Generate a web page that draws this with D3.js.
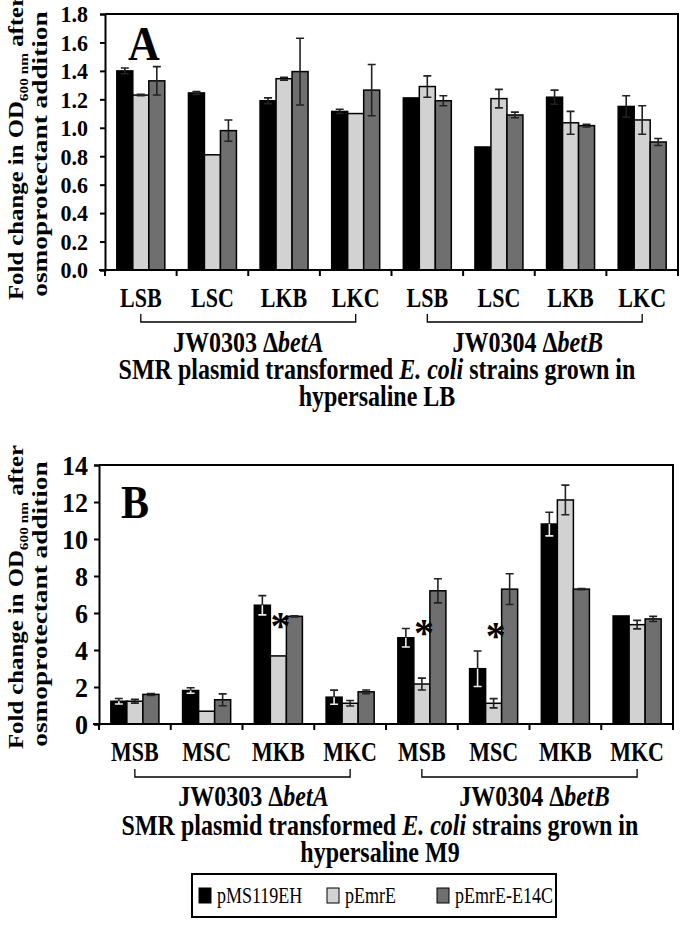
<!DOCTYPE html>
<html><head><meta charset="utf-8">
<script src="https://cdn.jsdelivr.net/npm/d3@7"></script>
<style>body{margin:0;background:#fff}svg{display:block}text{font-family:"Liberation Serif","Times New Roman",serif;fill:#000}</style>
</head><body><svg id="c" width="680" height="927"></svg>
<script>
const series = ["pMS119EH","pEmrE","pEmrE-E14C"];
const colors = ["#000000","#d2d2d2","#6f6f6f"];
const catsA = ["LSB","LSC","LKB","LKC","LSB","LSC","LKB","LKC"];
const catsB = ["MSB","MSC","MKB","MKC","MSB","MSC","MKB","MKC"];
const strainIds = ["JW0303","JW0304"];
const strainGenes = ["betA","betB"];
const ticksA = [0,0.2,0.4,0.6,0.8,1.0,1.2,1.4,1.6,1.8];
const ticksB = [0,2,4,6,8,10,12,14];

// Panel A values (fold change) and errors per series
const aMS = [1.40,1.245,1.19,1.115,1.21,0.865,1.215,1.15];
const aEmrE = [1.23,0.81,1.345,1.10,1.29,1.205,1.035,1.055];
const aE14C = [1.33,0.98,1.395,1.265,1.19,1.09,1.015,0.90];
const aMSerr = [0.02,0.01,0.02,0.015,0,0,0.05,0.075];
const aEmrEerr = [0.005,0,0.01,0,0.075,0.065,0.08,0.1];
const aE14Cerr = [0.10,0.075,0.235,0.18,0.035,0.02,0.01,0.025];

// Panel B
const bMS = [1.23,1.81,6.42,1.45,4.66,2.99,10.81,5.84];
const bEmrE = [1.23,0.69,3.68,1.12,2.16,1.12,12.11,5.37];
const bE14C = [1.60,1.31,5.82,1.74,7.20,7.29,7.29,5.68];
const bMSerr = [0.15,0.15,0.52,0.38,0.5,0.96,0.64,0];
const bEmrEerr = [0.1,0,0,0.15,0.32,0.25,0.8,0.23];
const bE14Cerr = [0.05,0.32,0.03,0.1,0.65,0.83,0.03,0.14];
// significance asterisks (category index, y value of the asterisk centre)
const starCats = [2,4,5];
const starVals = [5.79,5.41,5.25];

const svg = d3.select("#c");
const FONT = "Liberation Serif";
const SY = 1.25; // vertical stretch of the lettering in the original figure

function stext(g,x,y,fs,opts={}){
  const t = g.append("text").attr("transform",`translate(${x},${y}) scale(1,${opts.sy||SY})`)
    .attr("font-size",fs).attr("font-weight",opts.normal?"normal":"bold")
    .attr("text-anchor",opts.anchor||"middle");
  return t;
}

function panel(o){
  const g = svg.append("g");
  const n = o.cats.length;
  const x0 = d3.scaleBand().domain(d3.range(n)).range([o.L,o.R]).paddingInner(0.33).paddingOuter(0.165);
  const x1 = d3.scaleBand().domain(d3.range(3)).range([0,x0.bandwidth()]);
  const xb = d3.scaleLinear().domain([0,n]).range([o.L,o.R]);
  const y = d3.scaleLinear().domain(o.dom).range([o.B,o.T]);
  // frame top/right
  g.append("path").attr("d",`M${o.L},${o.T}H${o.R}V${o.B}`).attr("fill","none").attr("stroke","#000").attr("stroke-width",2);
  // bars
  o.vals.forEach((vals,s)=>{
    g.selectAll(null).data(vals).enter().append("rect")
      .attr("x",(d,i)=>x0(i)+x1(s)).attr("width",x1.bandwidth())
      .attr("y",d=>y(d)).attr("height",d=>y(0)-y(d))
      .attr("fill",colors[s]).attr("stroke","#000").attr("stroke-width",1.5);
  });
  // error bars
  o.vals.forEach((vals,s)=>{
    vals.forEach((v,i)=>{
      const e = o.errs[s][i]; if(!e) return;
      const cx = x0(i)+x1(s)+x1.bandwidth()/2;
      const up = "#222";
      const lo = (o.lightOnBlack && s===0) ? "#eeeeee" : "#222";
      g.append("path").attr("d",`M${cx},${y(v)}V${y(v+e)}M${cx-4},${y(v+e)}H${cx+4}`).attr("stroke",up).attr("stroke-width",1.6).attr("fill","none");
      g.append("path").attr("d",`M${cx},${y(v)}V${y(v-e)}M${cx-4},${y(v-e)}H${cx+4}`).attr("stroke",lo).attr("stroke-width",1.6).attr("fill","none");
    });
  });
  // y axis
  const ya = g.append("g").attr("transform",`translate(${o.L},0)`)
    .call(d3.axisLeft(y).tickValues(o.ticks).tickSize(5).tickPadding(o.tp).tickFormat(o.fmt));
  ya.select(".domain").attr("stroke-width",2);
  ya.selectAll(".tick line").attr("stroke-width",2);
  ya.selectAll("text").attr("font-family",FONT).attr("font-weight","bold").attr("font-size",o.tfs).attr("fill","#000")
    .attr("transform",`scale(1,${o.tsy})`).attr("dy","0.33em");
  // x axis
  g.append("line").attr("x1",o.L-6).attr("x2",o.R).attr("y1",o.B).attr("y2",o.B).attr("stroke","#000").attr("stroke-width",2.2);
  g.selectAll(null).data(d3.range(n+1)).enter().append("line")
    .attr("x1",d=>xb(d)).attr("x2",d=>xb(d)).attr("y1",o.B).attr("y2",o.B+6).attr("stroke","#000").attr("stroke-width",2);
  // category labels
  o.cats.forEach((c,i)=>{ stext(g,x0(i)+x0.bandwidth()/2,o.catY,22).text(c); });
  // brackets
  [0,1].forEach(k=>{
    const a = x0(k*4)+x0.bandwidth()/2, b = x0(k*4+3)+x0.bandwidth()/2;
    g.append("path").attr("d",`M${a},${o.brY-8}V${o.brY}H${b}V${o.brY-8}`).attr("fill","none").attr("stroke","#000").attr("stroke-width",1.3);
    const t = stext(g,(a+b)/2+o.strOff[k],o.strY,24,{sy:1.2});
    t.append("tspan").text(strainIds[k]+" Δ");
    t.append("tspan").attr("font-style","italic").text(strainGenes[k]);
  });
  // title
  const cx = o.titX;
  const t1 = stext(g,cx,o.titY,24,{sy:1.2});
  t1.append("tspan").text("SMR plasmid transformed ");
  t1.append("tspan").attr("font-style","italic").text("E. coli");
  t1.append("tspan").text(" strains grown in");
  stext(g,cx,o.titY+27,24,{sy:1.2}).text(o.medium);
  // y label
  const yl = g.append("text").attr("transform",`translate(${o.yl1},${o.ylc1}) rotate(-90) scale(1.18,1)`).attr("text-anchor","middle").attr("font-weight","bold").attr("font-size",21);
  yl.append("tspan").text("Fold change in OD");
  yl.append("tspan").attr("font-size",13).attr("dy",5).text("600 nm");
  yl.append("tspan").attr("dy",-5).text(" after");
  g.append("text").attr("transform",`translate(${o.yl2},${o.ylc2}) rotate(-90) scale(1.3,1)`).attr("text-anchor","middle").attr("font-weight","bold").attr("font-size",21).text("osmoprotectant addition");
  // panel letter
  stext(g,o.letX,o.letY,o.letFs,{anchor:"start",sy:1.1}).text(o.letter);
  // stars
  if(o.stars){
    o.stars[0].forEach((c,k)=>{
      g.append("text").attr("x",x0(c)+x1(1)+x1.bandwidth()/2+2).attr("y",y(o.stars[1][k])+22)
        .attr("text-anchor","middle").attr("font-weight","bold").attr("font-size",40).attr("font-family","DejaVu Sans").text("*");
    });
  }
}

panel({cats:catsA, L:105, R:678, T:14, B:270, dom:[0,1.8], ticks:ticksA, fmt:d3.format(".1f"), tp:12, tfs:22, tsy:1.08,
  vals:[aMS,aEmrE,aE14C], errs:[aMSerr,aEmrEerr,aE14Cerr], catY:307, brY:322, strY:352, strOff:[0,-7], titX:377, titY:379, medium:"hypersaline LB",
  yl1:23, yl2:47, ylc1:148, ylc2:154, letter:"A", letX:128, letY:60, letFs:44});
panel({cats:catsB, L:99, R:673, T:465, B:724, dom:[0,14], ticks:ticksB, fmt:d3.format("d"), tp:6, tfs:26, tsy:1.05,
  vals:[bMS,bEmrE,bE14C], errs:[bMSerr,bEmrEerr,bE14Cerr], lightOnBlack:true, catY:761, brY:777, strY:806, strOff:[11,5], titX:380, titY:835, medium:"hypersaline M9",
  yl1:23, yl2:47, ylc1:597, ylc2:604, letter:"B", letX:121, letY:518, letFs:42, stars:[starCats,starVals]});

// legend
const lg = svg.append("g");
lg.append("rect").attr("x",192).attr("y",874).attr("width",364).attr("height",43).attr("fill","#fff").attr("stroke","#000").attr("stroke-width",2);
const legX = [199,327,437];
series.forEach((s,i)=>{
  lg.append("rect").attr("x",legX[i]).attr("y",888).attr("width",12).attr("height",15).attr("fill",colors[i]).attr("stroke","#000").attr("stroke-width",1);
  stext(lg,legX[i]+18,903,18,{anchor:"start",normal:true}).text(s);
});
</script></body></html>
